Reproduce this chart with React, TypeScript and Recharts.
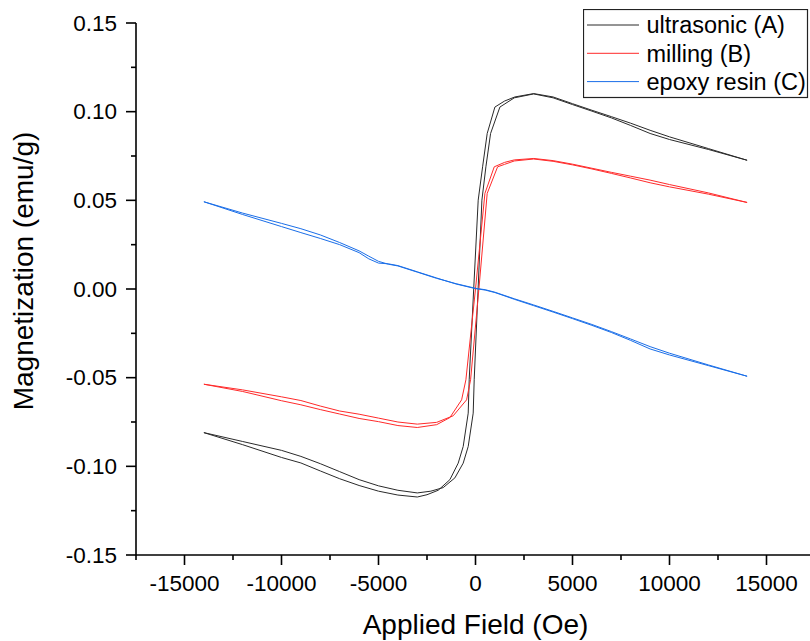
import React from 'react';
import { LineChart, Line, XAxis, YAxis, Legend, Label } from 'recharts';

// ultrasonic (A) – descending branch (from +H to -H)
const ultraDownH = [14000, 12000, 10000, 9000, 8000, 7000, 6000, 5000, 4000, 3000, 2030, 1500, 1000, 603, 366, 139, -93, -325, -376, -634, -892, -1320, -1923, -2500, -3000, -4000, -5000, -6000, -7000, -8000, -9000, -10000, -12000, -14000];
const ultraDownM = [0.0726, 0.0792, 0.0858, 0.0895, 0.0935, 0.0972, 0.1008, 0.1045, 0.1083, 0.1102, 0.1083, 0.1060, 0.1026, 0.0877, 0.0689, 0.0501, 0.0, -0.0512, -0.0700, -0.0888, -0.0982, -0.1075, -0.1135, -0.1160, -0.1173, -0.1162, -0.1140, -0.1108, -0.1070, -0.1026, -0.0981, -0.0950, -0.0878, -0.0810];
// ultrasonic (A) – ascending branch (from -H to +H)
const ultraUpH = [-14000, -12000, -10000, -9000, -8000, -7000, -6000, -5000, -4000, -3000, -2300, -1665, -1062, -634, -376, -119, -67, 134, 330, 536, 778, 1258, 2000, 3000, 4000, 5000, 6000, 7000, 8000, 9000, 10000, 12000, 14000];
const ultraUpM = [-0.0810, -0.0860, -0.0910, -0.0944, -0.0985, -0.1030, -0.1075, -0.1110, -0.1135, -0.1150, -0.1140, -0.1120, -0.1065, -0.0982, -0.0888, -0.0700, -0.0512, 0.0, 0.0501, 0.0689, 0.0877, 0.1026, 0.1078, 0.1100, 0.1078, 0.1040, 0.1003, 0.0965, 0.0922, 0.0877, 0.0843, 0.0787, 0.0726];

// milling (B)
const millDownH = [14000, 12000, 10000, 9000, 8000, 7000, 6000, 5000, 4000, 3000, 2000, 1500, 966, 485, 0, -495, -716, -1320, -2000, -3000, -4000, -5000, -6000, -7000, -8000, -9000, -10000, -12000, -14000];
const millDownM = [0.0488, 0.0542, 0.0589, 0.0614, 0.0636, 0.0658, 0.0681, 0.0704, 0.0724, 0.0736, 0.0728, 0.0714, 0.0689, 0.0539, 0.0, -0.0512, -0.0625, -0.0725, -0.0765, -0.0781, -0.0770, -0.0748, -0.0730, -0.0705, -0.0680, -0.0653, -0.0630, -0.0578, -0.0537];
const millUpH = [-14000, -12000, -10000, -9000, -8000, -7000, -6000, -5000, -4000, -3000, -2000, -1150, -459, -253, 175, 603, 1139, 1500, 2000, 3000, 4000, 5000, 6000, 7000, 8000, 9000, 10000, 12000, 14000];
const millUpM = [-0.0537, -0.0569, -0.0608, -0.0629, -0.0660, -0.0688, -0.0706, -0.0728, -0.0750, -0.0762, -0.0752, -0.0715, -0.0625, -0.0512, 0.0, 0.0539, 0.0689, 0.0703, 0.0722, 0.0733, 0.0720, 0.0700, 0.0677, 0.0652, 0.0626, 0.0599, 0.0576, 0.0535, 0.0488];

// epoxy resin (C)
const epoxyUpH = [-14000, -12000, -10000, -9000, -8000, -7000, -6000, -5500, -5000, -4500, -4000, -3000, -2000, -1000, 0, 500, 1000, 2000, 3000, 4000, 5000, 6000, 7000, 8000, 9000, 10000, 12000, 14000];
const epoxyUpM = [0.0492, 0.0428, 0.0370, 0.0340, 0.0305, 0.0262, 0.0215, 0.0185, 0.0156, 0.0140, 0.0130, 0.0095, 0.0060, 0.0030, 0.0004, -0.0004, -0.0018, -0.0055, -0.0090, -0.0126, -0.0163, -0.0200, -0.0240, -0.0282, -0.0325, -0.0362, -0.0428, -0.0492];
const epoxyDownH = [14000, 12000, 10000, 9000, 8000, 7000, 6000, 5000, 4000, 3000, 2000, 1000, 500, 0, -1000, -2000, -3000, -4000, -4500, -5000, -5500, -6000, -7000, -8000, -9000, -10000, -12000, -14000];
const epoxyDownM = [-0.0492, -0.0432, -0.0372, -0.0338, -0.0290, -0.0245, -0.0205, -0.0167, -0.0130, -0.0094, -0.0058, -0.0020, -0.0006, 0.0002, 0.0028, 0.0062, 0.0097, 0.0132, 0.0142, 0.0146, 0.0170, 0.0205, 0.0250, 0.0285, 0.0318, 0.0352, 0.0420, 0.0492];

const seriesNames = ['ultrasonic (A)', 'milling (B)', 'epoxy resin (C)'];
const seriesColors = ['#2a2a2a', '#ff2a2a', '#1a6ee8'];

const xTicks = [-17500, -15000, -12500, -10000, -7500, -5000, -2500, 0, 2500, 5000, 7500, 10000, 12500, 15000, 17500];
const yTicks = [-0.15, -0.125, -0.1, -0.075, -0.05, -0.025, 0, 0.025, 0.05, 0.075, 0.1, 0.125, 0.15];

const xTitle = 'Applied Field (Oe)';
const yTitle = 'Magnetization (emu/g)';

const FONT = '"Liberation Sans", Arial, sans-serif';

const zip = (hs: number[], ms: number[]) => hs.map((h, i) => ({ h, m: ms[i] }));
const loop = (dh: number[], dm: number[], uh: number[], um: number[]) => [...zip(dh, dm), ...zip(uh, um)];

const ultraLoop = loop(ultraDownH, ultraDownM, ultraUpH, ultraUpM);
const millLoop = loop(millDownH, millDownM, millUpH, millUpM);
const epoxyLoop = loop(epoxyDownH, epoxyDownM, epoxyUpH, epoxyUpM);
const loops = [ultraLoop, millLoop, epoxyLoop];

const XTick = (props: any) => {
  const { x, y, payload } = props;
  const v = payload.value;
  const major = Math.abs(v % 5000) < 1e-6;
  return (
    <g>
      <line x1={x} x2={x} y1={y} y2={y + (major ? 10 : 5)} stroke="#000" strokeWidth={1.6} />
      {major && (
        <text x={x} y={y + 36} textAnchor="middle" fontSize={22.5} fontFamily={FONT} fill="#000">
          {String(v)}
        </text>
      )}
    </g>
  );
};

const YTick = (props: any) => {
  const { x, y, payload } = props;
  const v = payload.value;
  const major = Math.abs(v * 20 - Math.round(v * 20)) < 1e-6;
  return (
    <g>
      <line x1={x - (major ? 10 : 5)} x2={x} y1={y} y2={y} stroke="#000" strokeWidth={1.6} />
      {major && (
        <text x={x - 19} y={y + 7.5} textAnchor="end" fontSize={22.5} fontFamily={FONT} fill="#000">
          {v.toFixed(2)}
        </text>
      )}
    </g>
  );
};

const XTitle = (props: any) => {
  const vb = props.viewBox || { x: 136, y: 555, width: 679, height: 86 };
  return (
    <text x={vb.x + vb.width / 2} y={vb.y + 79} textAnchor="middle" fontSize={28} fontFamily={FONT} fill="#000">
      {xTitle}
    </text>
  );
};

const YTitle = (props: any) => {
  const vb = props.viewBox || { x: 0, y: 23, width: 136, height: 532 };
  const cx = vb.x + 33;
  const cy = vb.y + vb.height / 2 - 18;
  return (
    <text x={cx} y={cy} transform={`rotate(-90, ${cx}, ${cy})`} textAnchor="middle" fontSize={28} fontFamily={FONT} fill="#000">
      {yTitle}
    </text>
  );
};

const renderLegend = () => {
  return (
    <svg width={226} height={90} style={{ display: 'block' }}>
      <rect x={0.5} y={0.5} width={224} height={88} fill="#fff" stroke="#222" strokeWidth={1.2} />
      {seriesNames.map((name, i) => {
        const cy = 16 + i * 28.3;
        return (
          <g key={name}>
            <line x1={4} x2={56} y1={cy} y2={cy} stroke={seriesColors[i]} strokeWidth={1} />
            <text x={63.5} y={cy + 8.4} fontSize={23.5} fontFamily={FONT} fill="#000">
              {name}
            </text>
          </g>
        );
      })}
    </svg>
  );
};

export default function App() {
  return (
    <div style={{ position: 'absolute', left: 0, top: 0, width: 810, height: 641, overflow: 'hidden', background: '#fff' }}>
      <LineChart width={830} height={641} margin={{ top: 23, right: 15, bottom: 0, left: 0 }}>
        <XAxis
          type="number"
          dataKey="h"
          domain={[-17500, 17500]}
          ticks={xTicks}
          interval={0}
          tick={<XTick />}
          tickLine={false}
          tickSize={0}
          tickMargin={0}
          height={86}
          allowDataOverflow
          axisLine={{ stroke: '#000', strokeWidth: 1.6 }}
        >
          <Label content={<XTitle />} />
        </XAxis>
        <YAxis
          type="number"
          domain={[-0.15, 0.15]}
          ticks={yTicks}
          interval={0}
          tick={<YTick />}
          tickLine={false}
          tickSize={0}
          tickMargin={0}
          width={136}
          allowDataOverflow
          axisLine={{ stroke: '#000', strokeWidth: 1.6 }}
        >
          <Label content={<YTitle />} />
        </YAxis>
        <Legend
          layout="vertical"
          align="center"
          verticalAlign="middle"
          wrapperStyle={{ position: 'absolute', left: 583, top: 9, width: 226, height: 90 }}
          content={renderLegend}
        />
        {loops.map((d, i) => (
          <Line
            key={seriesNames[i]}
            data={d}
            dataKey="m"
            name={seriesNames[i]}
            type="linear"
            stroke={seriesColors[i]}
            strokeWidth={1}
            dot={false}
            activeDot={false}
            isAnimationActive={false}
          />
        ))}
      </LineChart>
    </div>
  );
}
